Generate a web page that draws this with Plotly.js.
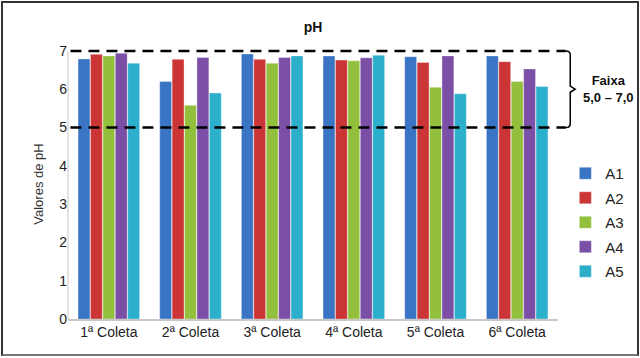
<!DOCTYPE html>
<html>
<head>
<meta charset="utf-8">
<script src="https://cdn.plot.ly/plotly-3.0.1.min.js"></script>
<style>
html,body{margin:0;padding:0;background:#fff;}
#wrap{position:relative;width:640px;height:358px;}
#chart{width:640px;height:358px;}
#frame{position:absolute;left:1px;top:1px;width:634px;height:351px;border:2px solid #333;border-bottom-color:#777;pointer-events:none;}
</style>
</head>
<body>
<div id="wrap"><div id="chart"></div><div id="frame"></div></div>
<script>
const categories = ["1ª Coleta","2ª Coleta","3ª Coleta","4ª Coleta","5ª Coleta","6ª Coleta"];
const seriesNames = ["A1","A2","A3","A4","A5"];
const A1 = [6.79, 6.20, 6.92, 6.87, 6.85, 6.87];
const A2 = [6.91, 6.78, 6.78, 6.76, 6.70, 6.72];
const A3 = [6.87, 5.58, 6.68, 6.74, 6.05, 6.20];
const A4 = [6.94, 6.83, 6.83, 6.82, 6.87, 6.53];
const A5 = [6.68, 5.90, 6.87, 6.89, 5.88, 6.07];
const faixa = [5.0, 7.0];
const yTicks = [0,1,2,3,4,5,6,7];
const colors = ["#3A74C4","#CC3535","#93C03C","#7B4FA5","#2BAFCB"];

const values = [A1, A2, A3, A4, A5];
const traces = values.map((v, i) => ({
  type: "bar",
  name: seriesNames[i],
  legendgroup: seriesNames[i],
  x: categories,
  y: v,
  marker: {color: colors[i], line: {color: "rgba(255,255,255,0.35)", width: 1}}
}));

const bx0 = 1.0, bx1 = 1.025, bx2 = 1.035;
const mid = (faixa[0] + faixa[1]) / 2;
const layout = {
  width: 640, height: 358,
  margin: {l: 68, r: 82, t: 49, b: 39, autoexpand: false},
  paper_bgcolor: "#fff", plot_bgcolor: "#fff",
  font: {family: "Liberation Sans, Arial, sans-serif", size: 14, color: "#222"},
  title: {text: "<b>pH</b>", x: 0.5, xref: "paper", y: 0.925, yref: "container", yanchor: "middle",
          font: {size: 14, color: "#111"}},
  barmode: "group",
  bargap: 0.24,
  bargroupgap: 0.04,
  xaxis: {
    type: "category",
    showline: true, linecolor: "#c8c8c8", linewidth: 1.5,
    ticks: "", tickfont: {size: 14, color: "#222"},
    showgrid: false
  },
  yaxis: {
    range: [0, 7.05], tickvals: yTicks, ticktext: yTicks.map(String),
    showline: false,
    showgrid: false, zeroline: false, ticks: "",
    tickfont: {size: 14, color: "#222"},
    title: {text: "Valores de pH", font: {size: 13, color: "#333"}, standoff: 12}
  },
  legend: {
    x: 1.015, xanchor: "left", y: 0.6, yanchor: "top",
    font: {size: 15, color: "#222"}, itemwidth: 30, tracegroupgap: 2,
    traceorder: "grouped",
    bgcolor: "rgba(0,0,0,0)"
  },
  shapes: [
    {type: "line", xref: "paper", yref: "y", x0: 0, x1: 0, y0: 0, y1: faixa[1],
     line: {color: "#c8c8c8", width: 1}},
    {type: "line", xref: "paper", yref: "y", x0: 0.005, x1: bx0 + 0.016, y0: faixa[1], y1: faixa[1],
     line: {color: "#000", width: 2.5, dash: "11px,7px"}},
    {type: "line", xref: "paper", yref: "y", x0: 0.005, x1: bx0 + 0.016, y0: faixa[0], y1: faixa[0],
     line: {color: "#000", width: 2.5, dash: "11px,7px"}},
    {type: "path", xref: "paper", yref: "y",
     path: `M ${bx0+0.016},${faixa[1]} Q ${bx1},${faixa[1]} ${bx1},${faixa[1]-0.1} L ${bx1},${mid+0.08} L ${bx2},${mid} L ${bx1},${mid-0.08} L ${bx1},${faixa[0]+0.1} Q ${bx1},${faixa[0]} ${bx0+0.016},${faixa[0]}`,
     line: {color: "#000", width: 1.5}}
  ],
  annotations: [
    {xref: "paper", yref: "y", x: 1.103, y: mid, xanchor: "center", yanchor: "middle",
     text: "<b>Faixa</b><br><b>" + faixa[0].toFixed(1).replace(".", ",") + " – " + faixa[1].toFixed(1).replace(".", ",") + "</b>",
     showarrow: false, font: {size: 13, color: "#111"}, align: "center"}
  ]
};

Plotly.newPlot("chart", traces, layout, {displayModeBar: false, staticPlot: true});
</script>
</body>
</html>
